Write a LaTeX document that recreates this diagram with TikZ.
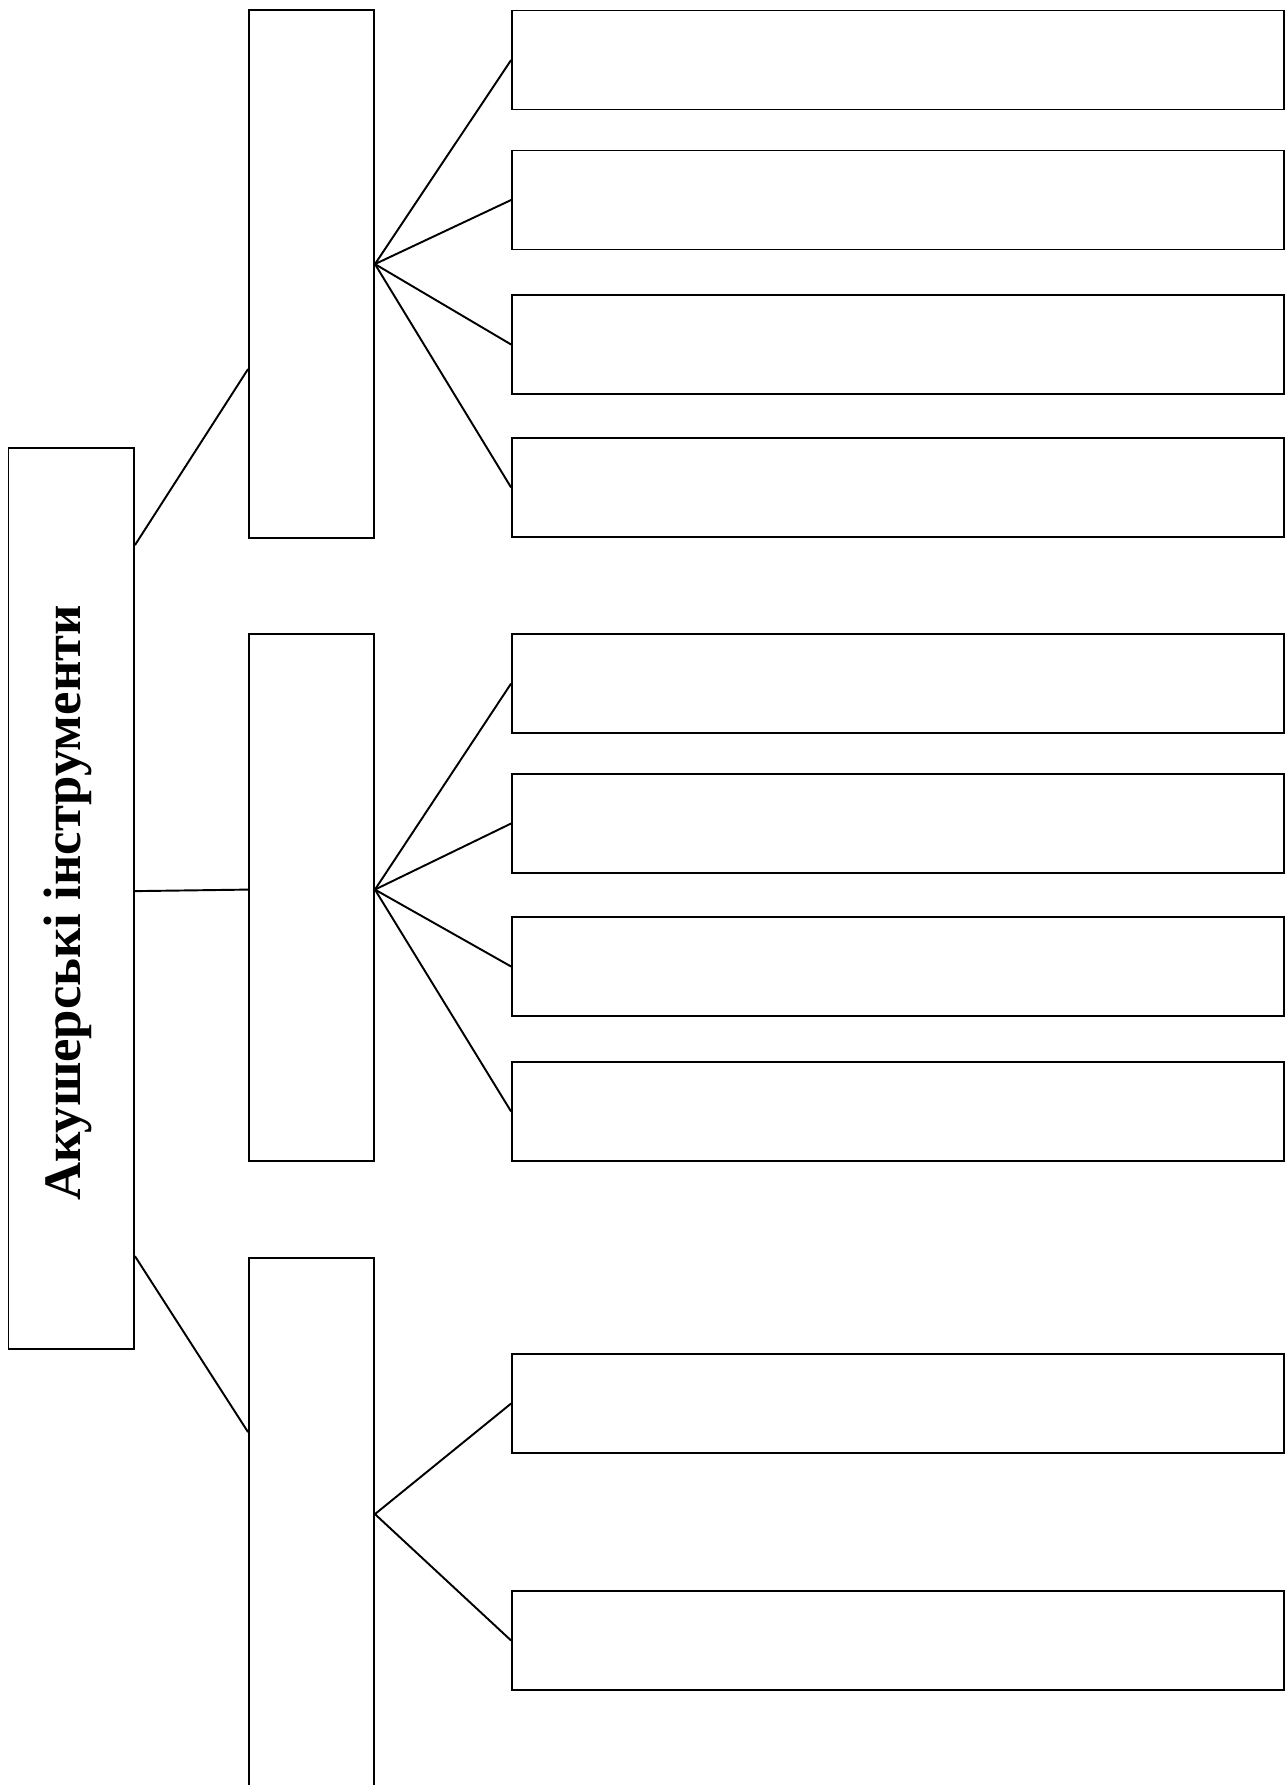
\documentclass[tikz,border=0pt]{standalone}
\usepackage{fontspec}
\setmainfont{Liberation Serif}
\usetikzlibrary{calc}

\begin{document}
\begin{tikzpicture}[
    x=0.02cm, y=-0.02cm,
    line width=1.1pt,
    rootbox/.style={draw, rectangle, inner sep=0pt, minimum width=2.51cm, minimum height=18.02cm},
    groupbox/.style={draw, rectangle, inner sep=0pt, minimum width=2.5cm, minimum height=#1},
    groupbox/.default=10.56cm,
    leafbox/.style={draw, rectangle, inner sep=0pt, minimum width=15.44cm, minimum height=1.98cm},
    title/.style={rotate=90, anchor=base, inner sep=0pt, font=\fontsize{30}{36}\selectfont\bfseries}
    ]

    \clip (0,0) rectangle (1287,1785);

    % main box
    \node [rootbox] (root) at (71.25,898.5) {};
    \node [title] (rootlabel) at (80,903) {Акушерські інструменти};

    % middle column
    \node [groupbox] (grp1) at (311.5,274) {};
    \node [groupbox] (grp2) at (311.5,897.5) {};
    \node [groupbox=12cm] (grp3) at (311.5,1558) {};

    % right column
    \foreach \y [count=\i] in {60,200,344.5,487.5}
        \node [leafbox] (leafa\i) at (898,\y) {};
    \foreach \y [count=\i] in {683.5,823.5,966.5,1111.5}
        \node [leafbox] (leafb\i) at (898,\y) {};
    \foreach \y [count=\i] in {1403.5,1640.5}
        \node [leafbox] (leafc\i) at (898,\y) {};

    % root to groups
    \draw ($(root.north east)+(0,98)$) -- ($(grp1.north west)+(0,360)$);
    \draw ($(root.north east)+(0,444)$) -- ($(grp2.north west)+(0,257)$);
    \draw ($(root.north east)+(0,809)$) -- ($(grp3.north west)+(0,175)$);

    % groups to leaves
    \coordinate (fana) at ($(grp1.north east)+(0,255)$);
    \coordinate (fanb) at ($(grp2.north east)+(0,257)$);
    \coordinate (fanc) at ($(grp3.north east)+(0,257)$);
    \foreach \i in {1,...,4}
        \draw (fana) -- (leafa\i.west);
    \foreach \i in {1,...,4}
        \draw (fanb) -- (leafb\i.west);
    \foreach \i in {1,2}
        \draw (fanc) -- (leafc\i.west);
\end{tikzpicture}
\end{document}
